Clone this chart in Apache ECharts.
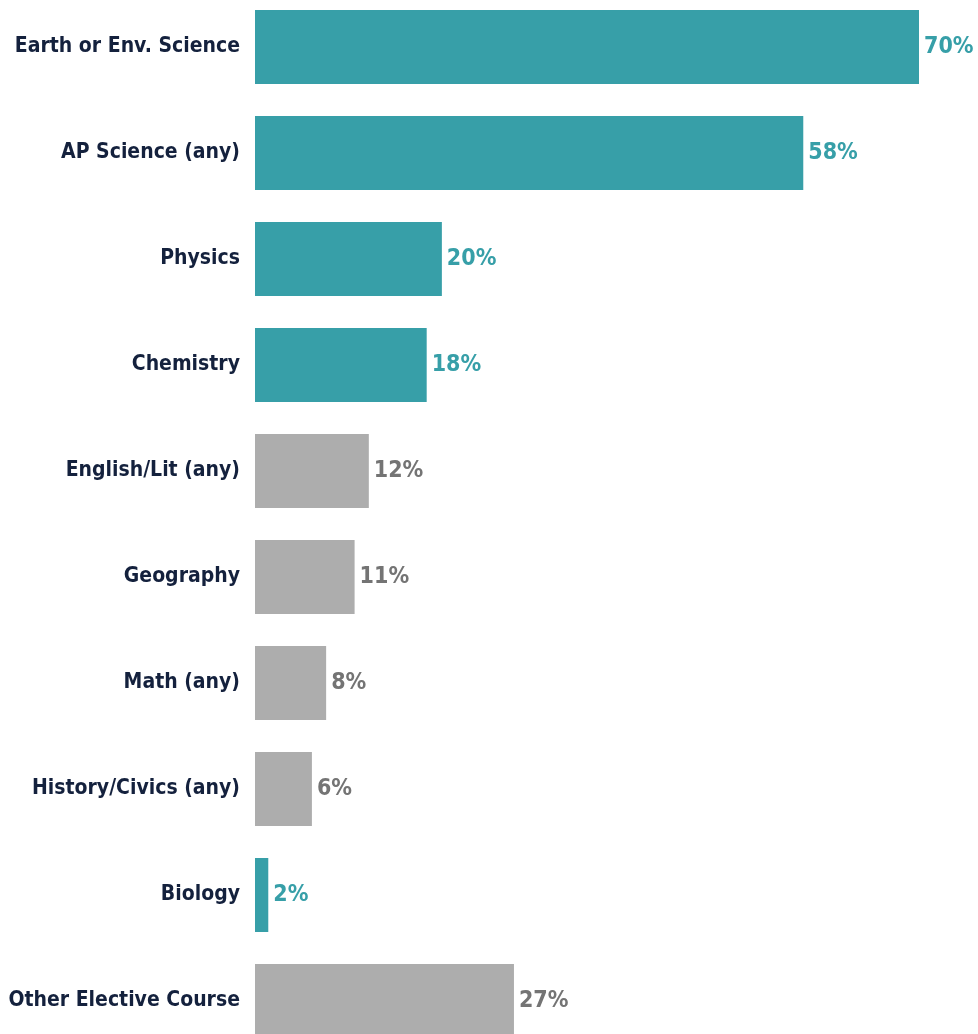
<!DOCTYPE html>
<html>
<head>
<meta charset="utf-8">
<script src="https://cdn.jsdelivr.net/npm/echarts@6/dist/echarts.min.js"></script>
<style>
html,body{margin:0;padding:0;background:#fff;}
#chart{width:978px;height:1034px;}
</style>
</head>
<body>
<div id="chart"></div>
<script>
const categories = ["Earth or Env. Science","AP Science (any)","Physics","Chemistry","English/Lit (any)","Geography","Math (any)","History/Civics (any)","Biology","Other Elective Course"];
const values = [70, 57.8, 19.7, 18.1, 12.0, 10.5, 7.5, 6.0, 1.4, 27.3];
const valueLabels = ["70%","58%","20%","18%","12%","11%","8%","6%","2%","27%"];
const isScience = [true, true, true, true, false, false, false, false, true, false];

const TEAL = '#379fa8';
const GREY = '#adadad';
const FONT = '"Liberation Sans Narrow","DejaVu Sans Condensed","Roboto",sans-serif';

const chart = echarts.init(document.getElementById('chart'));
chart.setOption({
  animation: false,
  grid: {left: 255, right: 59, top: -6, bottom: -20, containLabel: false, outerBoundsMode: 'none'},
  xAxis: {type: 'value', min: 0, max: 70, show: false},
  yAxis: {
    type: 'category', data: categories, inverse: true,
    axisLine: {show: false}, axisTick: {show: false},
    axisLabel: {margin: 15, color: '#14213d', fontFamily: FONT, fontWeight: 'bold', fontSize: 21}
  },
  series: [{
    type: 'bar',
    barWidth: 74,
    data: values.map((v, i) => ({
      value: v,
      itemStyle: {color: isScience[i] ? TEAL : GREY},
      label: {color: isScience[i] ? TEAL : '#747474'}
    })),
    label: {
      show: true, position: 'right', distance: 5,
      fontFamily: FONT, fontWeight: 'bold', fontSize: 23,
      formatter: p => valueLabels[p.dataIndex]
    }
  }]
});
</script>
</body>
</html>
